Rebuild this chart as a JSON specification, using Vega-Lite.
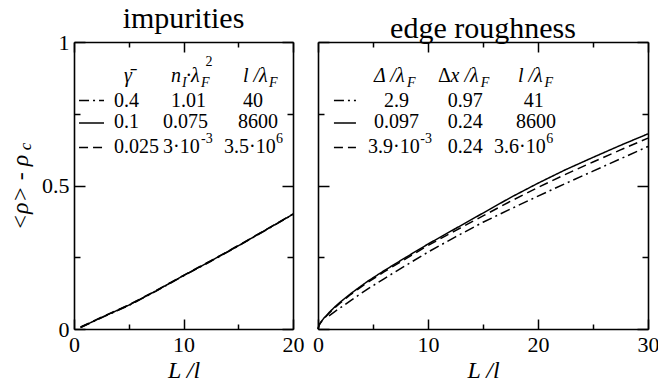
{
  "$schema": "https://vega.github.io/schema/vega-lite/v6.json",
  "background": "white",
  "padding": {"left": 8, "top": 4, "right": 0, "bottom": 0},
  "autosize": {"type": "pad"},
  "bounds": "flush",
  "spacing": 25,
  "config": {
    "font": "Liberation Serif, Times New Roman, serif",
    "view": {"stroke": null},
    "axis": {
      "labelFont": "Liberation Serif, Times New Roman, serif", "titleFont": "Liberation Serif, Times New Roman, serif",
      "labelFontSize": 22, "labelColor": "black", "titleColor": "black",
      "tickColor": "black", "domainColor": "black", "tickWidth": 1.5, "domainWidth": 1.6,
      "grid": false, "labelFlush": false, "titleFontWeight": "normal"
    },
    "title": {"font": "Liberation Serif, Times New Roman, serif", "fontSize": 30, "fontWeight": "normal", "color": "black", "baseline": "alphabetic", "offset": -3, "anchor": "middle"},
    "line": {"color": "black", "strokeWidth": 1.5},
    "text": {"font": "Liberation Serif, Times New Roman, serif", "color": "black", "align": "left", "baseline": "alphabetic"}
  },
  "datasets": {
    "imp": [
      {"L": 0.6, "rho": 0.006, "s": "solid"}, {"L": 1, "rho": 0.013, "s": "solid"}, {"L": 2.5, "rho": 0.04, "s": "solid"}, {"L": 5, "rho": 0.083, "s": "solid"}, {"L": 7.5, "rho": 0.133, "s": "solid"}, {"L": 10, "rho": 0.186, "s": "solid"}, {"L": 12.5, "rho": 0.237, "s": "solid"}, {"L": 15, "rho": 0.29, "s": "solid"}, {"L": 17.5, "rho": 0.345, "s": "solid"}, {"L": 20, "rho": 0.4, "s": "solid"},
      {"L": 0.6, "rho": 0.007, "s": "dashed"}, {"L": 1, "rho": 0.014, "s": "dashed"}, {"L": 2.5, "rho": 0.041, "s": "dashed"}, {"L": 5, "rho": 0.084, "s": "dashed"}, {"L": 7.5, "rho": 0.134, "s": "dashed"}, {"L": 10, "rho": 0.187, "s": "dashed"}, {"L": 12.5, "rho": 0.238, "s": "dashed"}, {"L": 15, "rho": 0.291, "s": "dashed"}, {"L": 17.5, "rho": 0.346, "s": "dashed"}, {"L": 20, "rho": 0.401, "s": "dashed"},
      {"L": 0.6, "rho": 0.005, "s": "dashdot"}, {"L": 1, "rho": 0.012, "s": "dashdot"}, {"L": 2.5, "rho": 0.039, "s": "dashdot"}, {"L": 5, "rho": 0.082, "s": "dashdot"}, {"L": 7.5, "rho": 0.132, "s": "dashdot"}, {"L": 10, "rho": 0.185, "s": "dashdot"}, {"L": 12.5, "rho": 0.236, "s": "dashdot"}, {"L": 15, "rho": 0.289, "s": "dashdot"}, {"L": 17.5, "rho": 0.344, "s": "dashdot"}, {"L": 20, "rho": 0.399, "s": "dashdot"}
    ],
    "impLeg": [
      {"L": 0.46, "rho": 0.796, "s": "dashdot"}, {"L": 2.74, "rho": 0.796, "s": "dashdot"},
      {"L": 0.46, "rho": 0.718, "s": "solid"}, {"L": 2.74, "rho": 0.718, "s": "solid"},
      {"L": 0.46, "rho": 0.632, "s": "dashed"}, {"L": 2.74, "rho": 0.632, "s": "dashed"}
    ],
    "impTxt": [
      {"L": 4.57, "rho": 0.86, "t": "γ̄", "k": "ital"},
      {"L": 8.86, "rho": 0.86, "t": "n", "k": "ital"},
      {"L": 9.86, "rho": 0.843, "t": "I", "k": "sub"},
      {"L": 10.23, "rho": 0.86, "t": "·λ", "k": "ital"},
      {"L": 11.6, "rho": 0.843, "t": "F", "k": "sub"},
      {"L": 12.0, "rho": 0.917, "t": "2", "k": "sup"},
      {"L": 15.43, "rho": 0.86, "t": "l /λ", "k": "ital"},
      {"L": 17.8, "rho": 0.843, "t": "F", "k": "sub"},
      {"L": 3.65, "rho": 0.772, "t": "0.4", "k": "num"},
      {"L": 8.86, "rho": 0.772, "t": "1.01", "k": "num"},
      {"L": 15.43, "rho": 0.772, "t": "40", "k": "num"},
      {"L": 3.65, "rho": 0.701, "t": "0.1", "k": "num"},
      {"L": 8.13, "rho": 0.701, "t": "0.075", "k": "num"},
      {"L": 14.98, "rho": 0.701, "t": "8600", "k": "num"},
      {"L": 3.65, "rho": 0.613, "t": "0.025", "k": "num"},
      {"L": 8.13, "rho": 0.613, "t": "3·10", "k": "num"},
      {"L": 11.6, "rho": 0.648, "t": "-3", "k": "sup"},
      {"L": 13.7, "rho": 0.613, "t": "3.5·10", "k": "num"},
      {"L": 18.45, "rho": 0.648, "t": "6", "k": "sup"},
      {"L": -4.4, "rho": 0.636, "t": "c", "k": "ysub"}
    ],
    "edge": [
      {"L": 0, "rho": 0, "s": "solid"}, {"L": 0.1, "rho": 0.015, "s": "solid"}, {"L": 0.25, "rho": 0.024, "s": "solid"}, {"L": 0.5, "rho": 0.036, "s": "solid"}, {"L": 1, "rho": 0.057, "s": "solid"}, {"L": 1.5, "rho": 0.076, "s": "solid"}, {"L": 2, "rho": 0.093, "s": "solid"}, {"L": 3, "rho": 0.124, "s": "solid"}, {"L": 4.5, "rho": 0.166, "s": "solid"}, {"L": 6, "rho": 0.203, "s": "solid"}, {"L": 8, "rho": 0.25, "s": "solid"}, {"L": 10, "rho": 0.296, "s": "solid"}, {"L": 12.5, "rho": 0.35, "s": "solid"}, {"L": 15, "rho": 0.404, "s": "solid"}, {"L": 17.5, "rho": 0.458, "s": "solid"}, {"L": 20, "rho": 0.508, "s": "solid"}, {"L": 22.5, "rho": 0.555, "s": "solid"}, {"L": 25, "rho": 0.598, "s": "solid"}, {"L": 27.5, "rho": 0.64, "s": "solid"}, {"L": 30, "rho": 0.68, "s": "solid"},
      {"L": 0, "rho": 0, "s": "dashed"}, {"L": 0.1, "rho": 0.013, "s": "dashed"}, {"L": 0.25, "rho": 0.022, "s": "dashed"}, {"L": 0.5, "rho": 0.034, "s": "dashed"}, {"L": 1, "rho": 0.055, "s": "dashed"}, {"L": 1.5, "rho": 0.073, "s": "dashed"}, {"L": 2, "rho": 0.09, "s": "dashed"}, {"L": 3, "rho": 0.121, "s": "dashed"}, {"L": 4.5, "rho": 0.162, "s": "dashed"}, {"L": 6, "rho": 0.199, "s": "dashed"}, {"L": 8, "rho": 0.245, "s": "dashed"}, {"L": 10, "rho": 0.291, "s": "dashed"}, {"L": 12.5, "rho": 0.343, "s": "dashed"}, {"L": 15, "rho": 0.394, "s": "dashed"}, {"L": 17.5, "rho": 0.445, "s": "dashed"}, {"L": 20, "rho": 0.493, "s": "dashed"}, {"L": 22.5, "rho": 0.539, "s": "dashed"}, {"L": 25, "rho": 0.582, "s": "dashed"}, {"L": 27.5, "rho": 0.624, "s": "dashed"}, {"L": 30, "rho": 0.665, "s": "dashed"},
      {"L": 1, "rho": 0.046, "s": "dashdot"}, {"L": 1.5, "rho": 0.06, "s": "dashdot"}, {"L": 2, "rho": 0.073, "s": "dashdot"}, {"L": 3, "rho": 0.1, "s": "dashdot"}, {"L": 4.5, "rho": 0.139, "s": "dashdot"}, {"L": 6, "rho": 0.175, "s": "dashdot"}, {"L": 8, "rho": 0.222, "s": "dashdot"}, {"L": 10, "rho": 0.268, "s": "dashdot"}, {"L": 12.5, "rho": 0.321, "s": "dashdot"}, {"L": 15, "rho": 0.372, "s": "dashdot"}, {"L": 17.5, "rho": 0.418, "s": "dashdot"}, {"L": 20, "rho": 0.463, "s": "dashdot"}, {"L": 22.5, "rho": 0.507, "s": "dashdot"}, {"L": 25, "rho": 0.55, "s": "dashdot"}, {"L": 27.5, "rho": 0.593, "s": "dashdot"}, {"L": 30, "rho": 0.636, "s": "dashdot"}
    ],
    "edgeLeg": [
      {"L": 1.45, "rho": 0.796, "s": "dashdot"}, {"L": 3.45, "rho": 0.796, "s": "dashdot"},
      {"L": 1.45, "rho": 0.718, "s": "solid"}, {"L": 3.45, "rho": 0.718, "s": "solid"},
      {"L": 1.45, "rho": 0.632, "s": "dashed"}, {"L": 3.45, "rho": 0.632, "s": "dashed"}
    ],
    "edgeTxt": [
      {"L": 5.09, "rho": 0.86, "t": "Δ /λ", "k": "ital"},
      {"L": 8.09, "rho": 0.843, "t": "F", "k": "sub"},
      {"L": 10.9, "rho": 0.86, "t": "Δ", "k": "num"},
      {"L": 12.05, "rho": 0.86, "t": "x /λ", "k": "ital"},
      {"L": 14.8, "rho": 0.843, "t": "F", "k": "sub"},
      {"L": 18.18, "rho": 0.86, "t": "l /λ", "k": "ital"},
      {"L": 20.6, "rho": 0.843, "t": "F", "k": "sub"},
      {"L": 6.0, "rho": 0.772, "t": "2.9", "k": "num"},
      {"L": 11.8, "rho": 0.772, "t": "0.97", "k": "num"},
      {"L": 18.7, "rho": 0.772, "t": "41", "k": "num"},
      {"L": 5.09, "rho": 0.701, "t": "0.097", "k": "num"},
      {"L": 11.8, "rho": 0.701, "t": "0.24", "k": "num"},
      {"L": 18.0, "rho": 0.701, "t": "8600", "k": "num"},
      {"L": 4.55, "rho": 0.613, "t": "3.9·10", "k": "num"},
      {"L": 9.3, "rho": 0.648, "t": "-3", "k": "sup"},
      {"L": 11.8, "rho": 0.613, "t": "0.24", "k": "num"},
      {"L": 16.0, "rho": 0.613, "t": "3.6·10", "k": "num"},
      {"L": 20.75, "rho": 0.648, "t": "6", "k": "sup"}
    ]
  },
  "hconcat": [
    {
      "width": 219, "height": 287,
      "title": {"text": "impurities"},
      "layer": [
        {
          "data": {"name": "imp"},
          "mark": {"type": "line", "strokeWidth": 1.5},
          "encoding": {
            "x": {"field": "L", "type": "quantitative", "scale": {"domain": [0, 20], "nice": false, "zero": false},
              "axis": {"orient": "bottom", "values": [0, 10, 20], "ticks": false, "tickSize": 0, "labelPadding": 5, "labelExpr": "'' + datum.value", "domain": true, "title": "L /l", "titleFontStyle": "italic", "titleFontSize": 24, "titleBaseline": "alphabetic", "titleY": 48}},
            "y": {"field": "rho", "type": "quantitative", "scale": {"domain": [0, 1], "nice": false, "zero": false},
              "axis": {"orient": "left", "values": [0, 0.5, 1], "ticks": false, "tickSize": 0, "labelPadding": 5, "labelExpr": "'' + datum.value", "domain": true, "title": "<ρ> - ρ", "titleFontStyle": "italic", "titleFontSize": 24, "titleX": -54, "titleY": 150, "titleAngle": 270, "titleAlign": "center", "titleBaseline": "middle"}},
            "strokeDash": {"field": "s", "type": "nominal", "legend": null,
              "scale": {"domain": ["dashdot", "solid", "dashed"], "range": [[10, 4, 2, 4], [1, 0], [9, 5]]}}
          }
        },
        {
          "data": {"name": "impLeg"},
          "mark": {"type": "line", "strokeWidth": 1.5},
          "encoding": {
            "x": {"field": "L", "type": "quantitative", "axis": {"orient": "top", "values": [0, 10, 20], "tickSize": -10, "labels": false, "domain": true, "title": null}},
            "y": {"field": "rho", "type": "quantitative", "axis": {"orient": "right", "values": [0, 0.5, 1], "tickSize": -11, "labels": false, "domain": true, "title": null}},
            "strokeDash": {"field": "s", "type": "nominal", "legend": null}
          }
        },
        {
          "data": {"name": "impTxt"},
          "transform": [{"filter": "datum.k === 'num'"}],
          "mark": {"type": "text", "fontSize": 20},
          "encoding": {
            "x": {"field": "L", "type": "quantitative", "axis": {"orient": "bottom", "values": [0, 10, 20], "tickSize": -10, "labels": false, "domain": false, "title": null}},
            "y": {"field": "rho", "type": "quantitative", "axis": {"orient": "left", "values": [0, 0.5, 1], "tickSize": -11, "labels": false, "domain": false, "title": null}},
            "text": {"field": "t"}
          }
        },
        {
          "data": {"name": "impTxt"},
          "transform": [{"filter": "datum.k === 'ital'"}],
          "mark": {"type": "text", "fontSize": 20, "fontStyle": "italic"},
          "encoding": {
            "x": {"field": "L", "type": "quantitative", "axis": {"orient": "bottom", "values": [5, 15], "tickSize": -5, "labels": false, "domain": false, "title": null}},
            "y": {"field": "rho", "type": "quantitative", "axis": {"orient": "left", "values": [0.25, 0.75], "tickSize": -6, "labels": false, "domain": false, "title": null}},
            "text": {"field": "t"}
          }
        },
        {
          "data": {"name": "impTxt"},
          "transform": [{"filter": "datum.k === 'sup'"}],
          "mark": {"type": "text", "fontSize": 14},
          "encoding": {
            "x": {"field": "L", "type": "quantitative", "axis": {"orient": "top", "values": [5, 15], "tickSize": -5, "labels": false, "domain": false, "title": null}},
            "y": {"field": "rho", "type": "quantitative", "axis": {"orient": "right", "values": [0.25, 0.75], "tickSize": -6, "labels": false, "domain": false, "title": null}},
            "text": {"field": "t"}
          }
        },
        {
          "data": {"name": "impTxt"},
          "transform": [{"filter": "datum.k === 'sub'"}],
          "mark": {"type": "text", "fontSize": 14, "fontStyle": "italic"},
          "encoding": {
            "x": {"field": "L", "type": "quantitative", "axis": null},
            "y": {"field": "rho", "type": "quantitative", "axis": null},
            "text": {"field": "t"}
          }
        },
        {
          "data": {"name": "impTxt"},
          "transform": [{"filter": "datum.k === 'ysub'"}],
          "mark": {"type": "text", "fontSize": 17, "fontStyle": "italic", "angle": 270, "align": "center", "baseline": "middle"},
          "encoding": {
            "x": {"field": "L", "type": "quantitative", "axis": null},
            "y": {"field": "rho", "type": "quantitative", "axis": null},
            "text": {"field": "t"}
          }
        }
      ]
    },
    {
      "width": 330, "height": 287,
      "title": {"text": "edge roughness"},
      "layer": [
        {
          "data": {"name": "edge"},
          "mark": {"type": "line", "strokeWidth": 1.5},
          "encoding": {
            "x": {"field": "L", "type": "quantitative", "scale": {"domain": [0, 30], "nice": false, "zero": false},
              "axis": {"orient": "bottom", "values": [0, 10, 20, 30], "ticks": false, "tickSize": 0, "labelPadding": 5, "labelExpr": "'' + datum.value", "domain": true, "title": "L /l", "titleFontStyle": "italic", "titleFontSize": 24, "titleBaseline": "alphabetic", "titleY": 48}},
            "y": {"field": "rho", "type": "quantitative", "scale": {"domain": [0, 1], "nice": false, "zero": false},
              "axis": {"orient": "left", "values": [0, 0.5, 1], "ticks": false, "tickSize": 0, "labels": false, "domain": true, "title": null}},
            "strokeDash": {"field": "s", "type": "nominal", "legend": null,
              "scale": {"domain": ["dashdot", "solid", "dashed"], "range": [[10, 4, 2, 4], [1, 0], [9, 5]]}}
          }
        },
        {
          "data": {"name": "edgeLeg"},
          "mark": {"type": "line", "strokeWidth": 1.5},
          "encoding": {
            "x": {"field": "L", "type": "quantitative", "axis": {"orient": "top", "values": [0, 10, 20, 30], "tickSize": -10, "labels": false, "domain": true, "title": null}},
            "y": {"field": "rho", "type": "quantitative", "axis": {"orient": "right", "values": [0, 0.5, 1], "tickSize": -11, "labels": false, "domain": true, "title": null}},
            "strokeDash": {"field": "s", "type": "nominal", "legend": null}
          }
        },
        {
          "data": {"name": "edgeTxt"},
          "transform": [{"filter": "datum.k === 'num'"}],
          "mark": {"type": "text", "fontSize": 20},
          "encoding": {
            "x": {"field": "L", "type": "quantitative", "axis": {"orient": "bottom", "values": [0, 10, 20, 30], "tickSize": -10, "labels": false, "domain": false, "title": null}},
            "y": {"field": "rho", "type": "quantitative", "axis": {"orient": "left", "values": [0, 0.5, 1], "tickSize": -11, "labels": false, "domain": false, "title": null}},
            "text": {"field": "t"}
          }
        },
        {
          "data": {"name": "edgeTxt"},
          "transform": [{"filter": "datum.k === 'ital'"}],
          "mark": {"type": "text", "fontSize": 20, "fontStyle": "italic"},
          "encoding": {
            "x": {"field": "L", "type": "quantitative", "axis": {"orient": "bottom", "values": [5, 15, 25], "tickSize": -5, "labels": false, "domain": false, "title": null}},
            "y": {"field": "rho", "type": "quantitative", "axis": {"orient": "left", "values": [0.25, 0.75], "tickSize": -6, "labels": false, "domain": false, "title": null}},
            "text": {"field": "t"}
          }
        },
        {
          "data": {"name": "edgeTxt"},
          "transform": [{"filter": "datum.k === 'sup'"}],
          "mark": {"type": "text", "fontSize": 14},
          "encoding": {
            "x": {"field": "L", "type": "quantitative", "axis": {"orient": "top", "values": [5, 15, 25], "tickSize": -5, "labels": false, "domain": false, "title": null}},
            "y": {"field": "rho", "type": "quantitative", "axis": {"orient": "right", "values": [0.25, 0.75], "tickSize": -6, "labels": false, "domain": false, "title": null}},
            "text": {"field": "t"}
          }
        },
        {
          "data": {"name": "edgeTxt"},
          "transform": [{"filter": "datum.k === 'sub'"}],
          "mark": {"type": "text", "fontSize": 14, "fontStyle": "italic"},
          "encoding": {
            "x": {"field": "L", "type": "quantitative", "axis": null},
            "y": {"field": "rho", "type": "quantitative", "axis": null},
            "text": {"field": "t"}
          }
        }
      ]
    }
  ]
}
